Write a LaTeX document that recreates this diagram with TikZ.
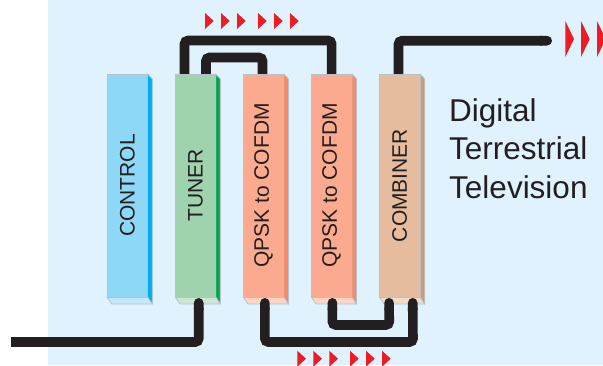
\documentclass[tikz,border=0pt]{standalone}
\usepackage{fontspec}
\setmainfont{Liberation Sans}
\usetikzlibrary{positioning,arrows.meta}
\definecolor{skyback}{HTML}{DFF2FD}
\definecolor{inkblack}{HTML}{231F20}
\definecolor{edgegrey}{HTML}{B7C1C7}
\definecolor{chevronred}{HTML}{ED1C24}
\definecolor{ctrlfront}{HTML}{8DD7F7}
\definecolor{ctrlside}{HTML}{00AEEF}
\definecolor{ctrllow}{HTML}{C5E8FA}
\definecolor{tunerfront}{HTML}{9FD3AE}
\definecolor{tunerside}{HTML}{00A651}
\definecolor{tunerlow}{HTML}{CCE5D3}
\definecolor{qpskfront}{HTML}{FBAA8F}
\definecolor{qpskside}{HTML}{F58A68}
\definecolor{qpsklow}{HTML}{FDD5C4}
\definecolor{combfront}{HTML}{E5BD9E}
\definecolor{combside}{HTML}{CF9A6F}
\definecolor{comblow}{HTML}{F1DCCB}
\tikzset{
  blockbox/.style={draw=edgegrey, line width=.8pt, outer sep=0pt, inner sep=0pt,
    minimum width=40.5pt, minimum height=223pt, text=inkblack, font=\fontsize{21}{24}\selectfont},
  blockface/.style={draw=edgegrey, line width=.8pt, line join=round},
  wire/.style={draw=inkblack, line width=9.6pt, rounded corners=3.5pt},
  chevron/.style={fill=chevronred}
}
\begin{document}
\begin{tikzpicture}[x=1pt,y=-1pt]
\useasboundingbox (0,0) rectangle (603,365);
\fill[skyback] (48,0) rectangle (603,365);

% wires running behind the blocks
\coordinate (wireout) at (552,40.7);
\coordinate (wirein) at (11,342);
\path (127.3,185.5) node[blockbox, fill=ctrlfront] (control) {\rotatebox{90}{CONTROL}};
\node[blockbox, fill=tunerfront, right=27.6pt of control] (tuner) {\rotatebox{90}{TUNER}};
\node[blockbox, fill=qpskfront, right=27.6pt of tuner] (qpska) {\rotatebox{90}{QPSK to COFDM}};
\node[blockbox, fill=qpskfront, right=27.6pt of qpska] (qpskb) {\rotatebox{90}{QPSK to COFDM}};
\node[blockbox, fill=combfront, right=27.6pt of qpskb] (combiner) {\rotatebox{90}{COMBINER}};

\draw[wire] ([xshift=-10.9pt]tuner.north) -- ++(0,-33.5) -| (qpskb.north);
\draw[wire] ([xshift=10.6pt]tuner.north) -- ++(0,-16.5) -| ([xshift=-1pt]qpska.north);
\draw[wire, -{Round Cap[]}] ([xshift=-1.2pt]combiner.north) -- ++(0,-33.3) -- (wireout);

% side and lower faces
\draw[blockface, fill=ctrlside] (control.north east) -- +(4.7,5) -- ([shift={(4.7,7)}]control.south east) -- (control.south east) -- cycle;
\draw[blockface, fill=ctrllow] (control.south west) -- +(4.7,7) -- ([shift={(4.7,7)}]control.south east) -- (control.south east) -- cycle;
\draw[blockface, fill=tunerside] (tuner.north east) -- +(4.7,5) -- ([shift={(4.7,7)}]tuner.south east) -- (tuner.south east) -- cycle;
\draw[blockface, fill=tunerlow] (tuner.south west) -- +(4.7,7) -- ([shift={(4.7,7)}]tuner.south east) -- (tuner.south east) -- cycle;
\draw[blockface, fill=qpskside] (qpska.north east) -- +(4.7,5) -- ([shift={(4.7,7)}]qpska.south east) -- (qpska.south east) -- cycle;
\draw[blockface, fill=qpsklow] (qpska.south west) -- +(4.7,7) -- ([shift={(4.7,7)}]qpska.south east) -- (qpska.south east) -- cycle;
\draw[blockface, fill=qpskside] (qpskb.north east) -- +(4.7,5) -- ([shift={(4.7,7)}]qpskb.south east) -- (qpskb.south east) -- cycle;
\draw[blockface, fill=qpsklow] (qpskb.south west) -- +(4.7,7) -- ([shift={(4.7,7)}]qpskb.south east) -- (qpskb.south east) -- cycle;
\draw[blockface, fill=combside] (combiner.north east) -- +(4.7,5) -- ([shift={(4.7,7)}]combiner.south east) -- (combiner.south east) -- cycle;
\draw[blockface, fill=comblow] (combiner.south west) -- +(4.7,7) -- ([shift={(4.7,7)}]combiner.south east) -- (combiner.south east) -- cycle;

% front faces again, over the wires' ends
\node[blockbox, fill=ctrlfront] at (control) {\rotatebox{90}{CONTROL}};
\node[blockbox, fill=tunerfront] at (tuner) {\rotatebox{90}{TUNER}};
\node[blockbox, fill=qpskfront] at (qpska) {\rotatebox{90}{QPSK to COFDM}};
\node[blockbox, fill=qpskfront] at (qpskb) {\rotatebox{90}{QPSK to COFDM}};
\node[blockbox, fill=combfront] at (combiner) {\rotatebox{90}{COMBINER}};

% wires on top of the lower faces
\draw[wire, -{Round Cap[]}] (wirein) -| ([shift={(3.3,1)}]tuner.south);
\draw[wire, {Round Cap[]}-{Round Cap[]}] ([shift={(1.4,1)}]qpska.south) |- (413,342) -- ([shift={(13,1)}]combiner.south);
\draw[wire, {Round Cap[]}-{Round Cap[]}] ([shift={(.8,1)}]qpskb.south) |- (389.3,325) -- ([shift={(-10.7,1)}]combiner.south);

\node[anchor=north west, align=left, text=inkblack, font=\fontsize{31.5}{38.5}\selectfont, inner sep=0pt] (caption) at (449,98) {Digital\\Terrestrial\\Television};

\fill[chevron] (205,13) -- +(8.7,8) -- +(0,16) -- cycle;
\fill[chevron] (221,13) -- +(8.7,8) -- +(0,16) -- cycle;
\fill[chevron] (237,13) -- +(8.7,8) -- +(0,16) -- cycle;
\fill[chevron] (258,13) -- +(8.7,8) -- +(0,16) -- cycle;
\fill[chevron] (274,13) -- +(8.7,8) -- +(0,16) -- cycle;
\fill[chevron] (290,13) -- +(8.7,8) -- +(0,16) -- cycle;

\fill[chevron] (297.3,350.7) -- +(8.7,8) -- +(0,16) -- cycle;
\fill[chevron] (313.3,350.7) -- +(8.7,8) -- +(0,16) -- cycle;
\fill[chevron] (329.3,350.7) -- +(8.7,8) -- +(0,16) -- cycle;
\fill[chevron] (350,350.7) -- +(8.7,8) -- +(0,16) -- cycle;
\fill[chevron] (366,350.7) -- +(8.7,8) -- +(0,16) -- cycle;
\fill[chevron] (382,350.7) -- +(8.7,8) -- +(0,16) -- cycle;

\fill[chevron] (565.3,21) -- +(8.7,18) -- +(0,36) -- cycle;
\fill[chevron] (581,21) -- +(8.7,18) -- +(0,36) -- cycle;
\fill[chevron] (597,21) -- +(8.7,18) -- +(0,36) -- cycle;
\end{tikzpicture}
\end{document}
